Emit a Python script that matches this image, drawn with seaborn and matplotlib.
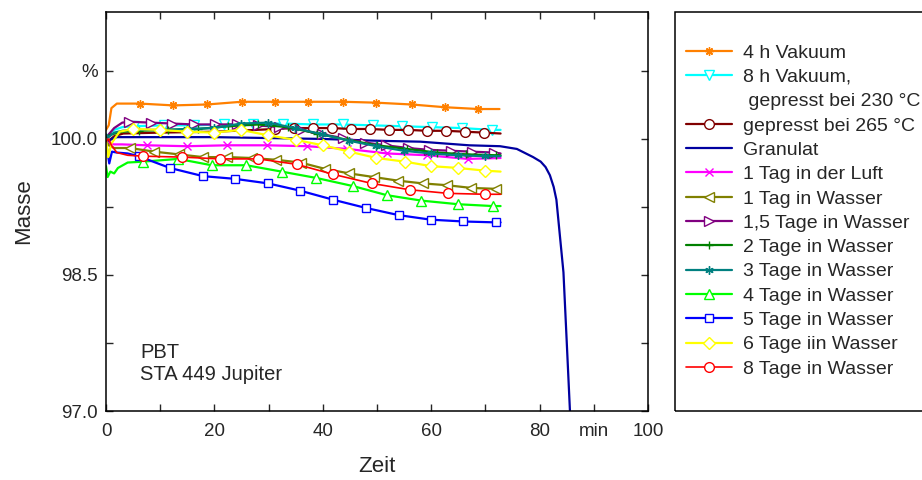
import numpy as np
import pandas as pd
import seaborn as sns
import matplotlib
matplotlib.use("Agg")
import matplotlib.pyplot as plt
from matplotlib.lines import Line2D
from matplotlib.patches import Rectangle

# data (time in min, mass in %)
labels = ["4 h Vakuum", "8 h Vakuum,", "gepresst bei 265 °C", "Granulat",
          "1 Tag in der Luft", "1 Tag in Wasser", "1,5 Tage in Wasser", "2 Tage in Wasser",
          "3 Tage in Wasser", "4 Tage in Wasser", "5 Tage in Wasser", "6 Tage iin Wasser",
          "8 Tage in Wasser"]
label_cont = " gepresst bei 230 °C"   # second line of the 8 h Vakuum entry

t_vak4 = [0, 0.5, 1.0, 2.0, 6.3, 12.4, 18.6, 25.0, 31.2, 37.3, 43.8, 49.9, 56.4, 62.5, 68.7, 72.6]
m_vak4 = [100.10, 100.15, 100.34, 100.39, 100.39, 100.37, 100.38, 100.41, 100.41, 100.41, 100.41,
          100.40, 100.38, 100.35, 100.33, 100.33]

t_vak8 = [0, 0.5, 1.5, 3, 5.2, 10.7, 16.2, 21.7, 27.2, 32.7, 38.2, 43.7, 49.2, 54.7, 60.2, 65.7, 71.2, 72.8]
m_vak8 = [100.0, 100.05, 100.10, 100.13, 100.14, 100.15, 100.15, 100.16, 100.17, 100.17, 100.16,
          100.16, 100.15, 100.14, 100.13, 100.12, 100.10, 100.10]

t_p265 = [0, 0.5, 1.5, 3.2, 10, 20, 27.7, 31.2, 34.7, 38.2, 41.7, 45.2, 48.7, 52.2, 55.7, 59.2,
          62.7, 66.2, 69.7, 72.8]
m_p265 = [100.0, 99.98, 100.03, 100.06, 100.07, 100.08, 100.10, 100.11, 100.12, 100.12, 100.12,
          100.11, 100.11, 100.10, 100.10, 100.09, 100.09, 100.08, 100.07, 100.06]

t_gran = [0, 0.5, 1, 2, 10, 20, 30, 40, 50, 58, 67, 72.7, 75.8, 78.8, 80.2, 81.1, 81.9, 82.6,
          83.1, 83.7, 84.4, 85.0, 85.6, 86.0]
m_gran = [100.0, 99.97, 100.0, 100.02, 100.02, 100.02, 100.01, 100.0, 99.98, 99.97, 99.93, 99.92,
          99.89, 99.80, 99.75, 99.69, 99.60, 99.47, 99.33, 98.96, 98.53, 97.77, 97.0, 96.5]

t_luft = [0, 0.5, 1.5, 3, 7.5, 14.9, 22.3, 29.7, 37.1, 44.5, 51.9, 59.3, 66.7, 72.8]
m_luft = [99.98, 99.95, 99.94, 99.94, 99.93, 99.92, 99.93, 99.93, 99.92, 99.89, 99.84, 99.82,
          99.78, 99.79]

t_w1 = [0, 0.5, 1.5, 3, 4.4, 8.9, 13.4, 17.9, 22.4, 26.9, 31.4, 35.9, 40.4, 44.9, 49.4, 53.9,
        58.4, 62.9, 67.4, 71.9, 72.8]
m_w1 = [99.98, 99.93, 99.90, 99.90, 99.90, 99.86, 99.83, 99.80, 99.80, 99.79, 99.77, 99.74,
        99.67, 99.62, 99.58, 99.54, 99.51, 99.49, 99.46, 99.45, 99.45]

t_w15 = [0, 0.5, 1.5, 3, 4.3, 8.3, 12.2, 16.2, 20.1, 24.1, 28.0, 32.0, 35.9, 39.9, 43.8, 47.8,
         51.7, 55.7, 59.6, 63.6, 67.5, 71.5, 72.8]
m_w15 = [100.0, 100.05, 100.12, 100.18, 100.19, 100.18, 100.17, 100.16, 100.16, 100.16, 100.15,
         100.13, 100.10, 100.05, 100.01, 99.96, 99.93, 99.90, 99.88, 99.87, 99.86, 99.85, 99.84]

t_w2 = [0, 1, 3, 6, 11.5, 17, 22.5, 28, 33.5, 39, 44.5, 50, 55.5, 61, 66.5, 72, 72.8]
m_w2 = [100.02, 100.05, 100.08, 100.09, 100.10, 100.11, 100.14, 100.16, 100.13, 100.06, 99.99,
        99.93, 99.89, 99.85, 99.83, 99.82, 99.82]

t_w3 = [0, 0.5, 1.5, 3, 4.9, 9.9, 14.9, 19.9, 24.9, 29.9, 34.9, 39.9, 44.9, 49.9, 54.9, 59.9,
        64.9, 69.9, 72.8]
m_w3 = [100.05, 100.02, 100.07, 100.09, 100.10, 100.10, 100.11, 100.12, 100.17, 100.18, 100.12,
        100.05, 99.98, 99.92, 99.87, 99.84, 99.82, 99.81, 99.81]

t_w4 = [0, 0.3, 0.8, 1.5, 2.2, 4, 6.9, 13.3, 19.5, 25.9, 32.4, 38.8, 45.6, 51.8, 58.2, 65.0, 71.4, 72.8]
m_w4 = [99.70, 99.58, 99.64, 99.62, 99.68, 99.74, 99.75, 99.78, 99.71, 99.71, 99.64, 99.57,
        99.48, 99.38, 99.32, 99.28, 99.26, 99.26]

t_w5 = [0, 0.6, 1.1, 2, 4, 6.0, 11.8, 17.9, 23.8, 29.9, 35.8, 41.9, 47.9, 54.0, 59.9, 65.9, 71.9, 72.8]
m_w5 = [99.97, 99.73, 99.86, 99.85, 99.84, 99.81, 99.68, 99.59, 99.56, 99.51, 99.43, 99.33,
        99.24, 99.16, 99.11, 99.09, 99.08, 99.08]

t_w6 = [0, 0.4, 1, 2.5, 5.0, 9.9, 15.0, 19.9, 24.9, 29.9, 35.0, 40.0, 44.9, 49.9, 55.1, 60.0,
        65.0, 70.0, 72.8]
m_w6 = [100.0, 99.80, 99.95, 100.08, 100.11, 100.10, 100.08, 100.07, 100.10, 100.04, 99.99,
        99.93, 99.86, 99.79, 99.75, 99.70, 99.68, 99.65, 99.64]

t_w8 = [0, 0.5, 1.0, 2, 4, 6.9, 14.0, 21.0, 28.1, 35.2, 41.9, 49.0, 56.0, 63.1, 69.9, 72.8]
m_w8 = [99.97, 100.0, 99.93, 99.85, 99.82, 99.81, 99.80, 99.78, 99.78, 99.72, 99.61, 99.51,
        99.44, 99.40, 99.39, 99.39]

times = [t_vak4, t_vak8, t_p265, t_gran, t_luft, t_w1, t_w15, t_w2, t_w3, t_w4, t_w5, t_w6, t_w8]
masses = [m_vak4, m_vak8, m_p265, m_gran, m_luft, m_w1, m_w15, m_w2, m_w3, m_w4, m_w5, m_w6, m_w8]

# style: colour, marker, number of unmarked start points
styles = [
    ("#FF8000", (8, 2, 0), 4),
    ("#00FFFF", "v", 4),
    ("#800000", "o", 7),
    ("#0000A0", None, 0),
    ("#FF00FF", "x", 4),
    ("#808000", "<", 4),
    ("#800080", ">", 4),
    ("#008000", "+", 3),
    ("#008080", (6, 2, 0), 4),
    ("#00FF00", "^", 6),
    ("#0000FF", "s", 5),
    ("#FFFF00", "D", 4),
    ("#FF0000", "o", 5),
]

sns.set_style("ticks")
plt.rcParams['font.family'] = ['Liberation Sans', 'DejaVu Sans']

fig = plt.figure(figsize=(9.22, 4.8), dpi=100)
ax = fig.add_axes([106 / 922, 1 - 411 / 480, 542 / 922, 399 / 480])

handles = []
for lab, t, m, (col, mk, skip) in zip(labels, times, masses, styles):
    df = pd.DataFrame({"Zeit": t, "Masse": m})
    kw = dict(color=col, linewidth=1.6)
    if mk is not None:
        ms = 7 if mk in ("o", "v", "<", ">", "^") else 6
        if mk == "D":
            ms = 6.5
        face = col if mk in ("x", "+") or isinstance(mk, tuple) else "white"
        kw.update(marker=mk, markersize=ms, markerfacecolor=face, markeredgecolor=col,
                  markeredgewidth=1.0, markevery=list(range(skip, len(t) - 1)))
    if lab.startswith("8 Tage"):
        kw["linewidth"] = 1.2
    sns.lineplot(data=df, x="Zeit", y="Masse", sort=False, estimator=None, ax=ax,
                 legend=False, **kw)
    line = ax.lines[-1]
    line.set_label(lab)
    handles.append(line)
    if lab.startswith("8 h"):
        handles.append(Line2D([], [], linestyle="none", label=label_cont))

ax.set_xlim(0, 100)
ax.set_ylim(97.0, 101.4)
ax.set_xticks(np.arange(0, 101, 10))
ax.set_xticklabels(["0", "", "20", "", "40", "", "60", "", "80", "min", "100"])
ax.set_yticks([97.0, 97.75, 98.5, 99.25, 100.0, 100.75])
ax.set_yticklabels(["97.0", "", "98.5", "", "100.0", "%"])
ax.tick_params(direction="in", length=5, width=1, top=True, right=True, labelsize=13.5)
ax.tick_params(axis="y", pad=6)
ax.tick_params(axis="x", pad=9)
for s in ax.spines.values():
    s.set_linewidth(1.1)
    s.set_color("black")

ax.set_xlabel("Zeit", fontsize=16, labelpad=11)
ax.set_ylabel("Masse", fontsize=16, labelpad=12)

ax.text(0.063, 0.12, "PBT\nSTA 449 Jupiter", transform=ax.transAxes, fontsize=14.5,
        va="center", ha="left", linespacing=1.2)

# legend box on the right
fig.patches.append(Rectangle((675 / 922, 1 - 411 / 480), 260 / 922, 399 / 480,
                             transform=fig.transFigure, fill=False, edgecolor="black",
                             linewidth=1.1))
fig.legend(handles=handles, loc="upper left", bbox_to_anchor=(686 / 922, 1 - 44 / 480),
           frameon=False, fontsize=14, handlelength=2.37, handletextpad=0.55,
           labelspacing=0.345, borderaxespad=0, borderpad=0)

fig.savefig("out.png", dpi=100)
